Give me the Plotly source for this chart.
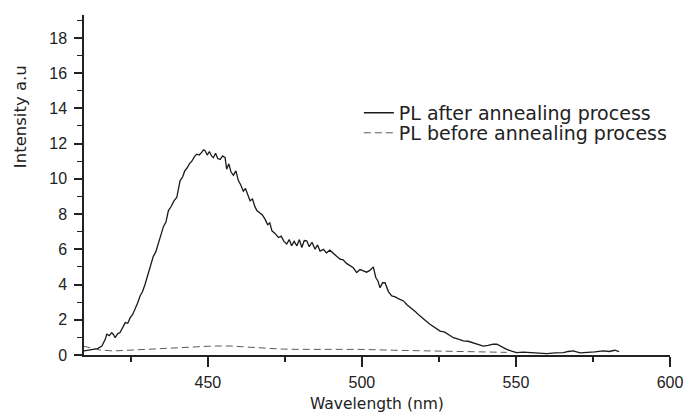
import plotly.graph_objects as go

# PL after annealing (wavelength nm, intensity a.u.)
after_wl = [409.6, 411.0, 412.9, 414.2, 415.6, 416.7, 417.2, 418.0, 418.8, 419.4, 419.9, 420.7, 421.5, 422.3,
            423.2, 424.0, 424.8, 425.6, 426.4, 427.2, 428.0, 428.8, 429.6, 430.4, 431.3, 432.3, 433.1, 434.0,
            434.8, 435.6, 436.4, 437.2, 438.0, 439.0, 439.9, 440.5, 441.0, 441.8, 442.5, 443.2, 444.0, 444.8,
            445.6, 446.4, 447.2, 448.0, 448.6, 449.1, 449.8, 450.5, 451.2, 451.8, 452.5, 453.2, 454.0, 454.8,
            455.6, 456.1, 456.8, 457.5, 458.3, 459.1, 459.9, 460.7, 461.5, 462.2, 463.0, 463.7, 464.5, 465.2,
            465.9, 466.8, 467.7, 468.6, 469.4, 470.1, 470.8, 471.8, 472.9, 473.8, 474.7, 475.6, 476.4, 477.2,
            478.0, 478.9, 479.7, 480.5, 481.3, 482.1, 482.9, 483.8, 484.8, 485.6, 486.4, 487.5, 488.5, 489.6,
            490.7, 491.8, 492.9, 493.9, 495.0, 496.2, 497.2, 498.3, 499.4, 500.5, 501.5, 502.6, 503.7, 504.5,
            505.2, 505.9, 506.7, 507.5, 508.6, 509.7, 510.8, 511.8, 512.7, 513.5, 514.6, 515.4, 516.2, 517.4,
            518.6, 519.9, 521.0, 522.1, 523.2, 524.3, 525.4, 526.9, 528.3, 529.7, 531.3, 532.9, 534.5, 536.2,
            537.8, 539.4, 541.0, 542.5, 543.8, 545.4, 547.0, 548.6, 550.2, 552.4, 554.6, 557.3, 560.0, 562.7,
            565.4, 567.0, 568.6, 570.8, 573.0, 575.6, 578.3, 580.2, 582.1, 583.5]
after_int = [0.23, 0.28, 0.32, 0.36, 0.51, 0.89, 1.18, 1.10, 1.27, 1.15, 0.98, 1.20, 1.27, 1.55,
             1.84, 1.80, 2.12, 2.30, 2.60, 2.95, 3.35, 3.60, 4.00, 4.45, 4.96, 5.60, 5.85, 6.40,
             6.80, 7.30, 7.55, 8.20, 8.40, 8.75, 8.94, 9.50, 9.90, 10.10, 10.45, 10.60, 10.85, 11.00,
             11.25, 11.40, 11.35, 11.50, 11.65, 11.60, 11.35, 11.55, 11.30, 11.20, 11.45, 11.15, 11.10, 11.30,
             11.20, 10.55, 10.85, 10.40, 10.20, 10.45, 9.90, 9.65, 9.30, 9.45, 9.00, 8.75, 8.85, 8.45,
             8.20, 8.05, 7.95, 7.70, 7.40, 7.50, 7.05, 6.90, 6.67, 6.75, 6.45, 6.30, 6.55, 6.20,
             6.45, 6.20, 6.55, 6.10, 6.50, 6.48, 6.15, 6.40, 6.00, 6.25, 5.90, 6.00, 5.80, 5.95,
             5.80, 5.60, 5.44, 5.40, 5.20, 5.06, 4.95, 4.68, 4.85, 4.77, 4.70, 4.80, 5.00, 4.40,
             4.20, 3.82, 4.10, 4.10, 3.60, 3.35, 3.30, 3.20, 3.15, 3.07, 2.85, 2.75, 2.60, 2.45,
             2.25, 2.03, 1.90, 1.74, 1.62, 1.50, 1.36, 1.30, 1.15, 0.98, 0.90, 0.80, 0.78, 0.70,
             0.62, 0.51, 0.55, 0.62, 0.61, 0.45, 0.32, 0.22, 0.13, 0.16, 0.13, 0.10, 0.08, 0.12,
             0.13, 0.20, 0.23, 0.12, 0.13, 0.18, 0.23, 0.20, 0.27, 0.19]

# PL before annealing
before_wl = [409.6, 415.0, 419.4, 424.8, 430.2, 435.6, 441.0, 446.4, 451.8, 457.2, 462.6, 468.0,
             473.4, 478.9, 484.2, 489.7, 495.1, 499.4, 510.2, 521.0, 531.8, 542.6, 547.0]
before_int = [0.50, 0.28, 0.23, 0.28, 0.32, 0.38, 0.44, 0.47, 0.51, 0.51, 0.44, 0.38,
              0.34, 0.32, 0.32, 0.28, 0.28, 0.32, 0.27, 0.23, 0.19, 0.15, 0.15]

x_ticks = [450, 500, 550, 600]
y_ticks = [0, 2, 4, 6, 8, 10, 12, 14, 16, 18]

fig = go.Figure()
fig.add_trace(go.Scatter(x=after_wl, y=after_int, mode="lines",
                         name="PL after annealing process", legend="legend",
                         line=dict(color="#1a1a1a", width=1.3)))
fig.add_trace(go.Scatter(x=before_wl, y=before_int, mode="lines",
                         name="PL before annealing process", legend="legend2",
                         line=dict(color="#5a5a5a", width=1, dash="7px,4px")))

legfont = dict(family="DejaVu Sans, sans-serif", size=19, color="#222")
tickfont = dict(family="Liberation Sans, Arial, sans-serif", size=16, color="#222")
fig.update_layout(
    width=684, height=412,
    margin=dict(l=84, r=14, t=15, b=57, autoexpand=False),
    paper_bgcolor="white", plot_bgcolor="white",
    showlegend=True,
    legend=dict(x=0.469, y=0.768, xanchor="left", yanchor="top", font=legfont,
                bgcolor="rgba(0,0,0,0)"),
    legend2=dict(x=0.469, y=0.709, xanchor="left", yanchor="top", font=legfont,
                 bgcolor="rgba(0,0,0,0)"),
    xaxis=dict(range=[409.8, 600], tickvals=x_ticks, ticks="outside", ticklen=10, tickwidth=1.5,
               tickcolor="#222", showline=True, linecolor="#222", linewidth=1.5, showgrid=False,
               zeroline=False, tickfont=tickfont, ticklabelstandoff=2, automargin=False,
               minor=dict(dtick=25, tick0=425, ticks="outside", ticklen=5, tickwidth=1.5, tickcolor="#222")),
    yaxis=dict(range=[0, 19.3], tickvals=y_ticks, ticks="outside", ticklen=8, tickwidth=1.5,
               tickcolor="#222", showline=True, linecolor="#222", linewidth=1.5, showgrid=False,
               zeroline=False, tickfont=tickfont, ticklabelstandoff=4, automargin=False,
               minor=dict(dtick=1, tick0=0, ticks="outside", ticklen=5, tickwidth=1.2, tickcolor="#222")),
    annotations=[
        dict(text="Wavelength (nm)", xref="paper", yref="paper", x=0.5, y=-0.144,
             xanchor="center", yanchor="middle", showarrow=False,
             font=dict(family="DejaVu Sans, sans-serif", size=15.5, color="#222")),
        dict(text="Intensity a.u", xref="paper", yref="paper", x=-0.109, y=0.70,
             xanchor="center", yanchor="middle", showarrow=False, textangle=-90,
             font=dict(family="DejaVu Sans, sans-serif", size=16.5, color="#222")),
    ],
)

fig.write_html("out.html")
